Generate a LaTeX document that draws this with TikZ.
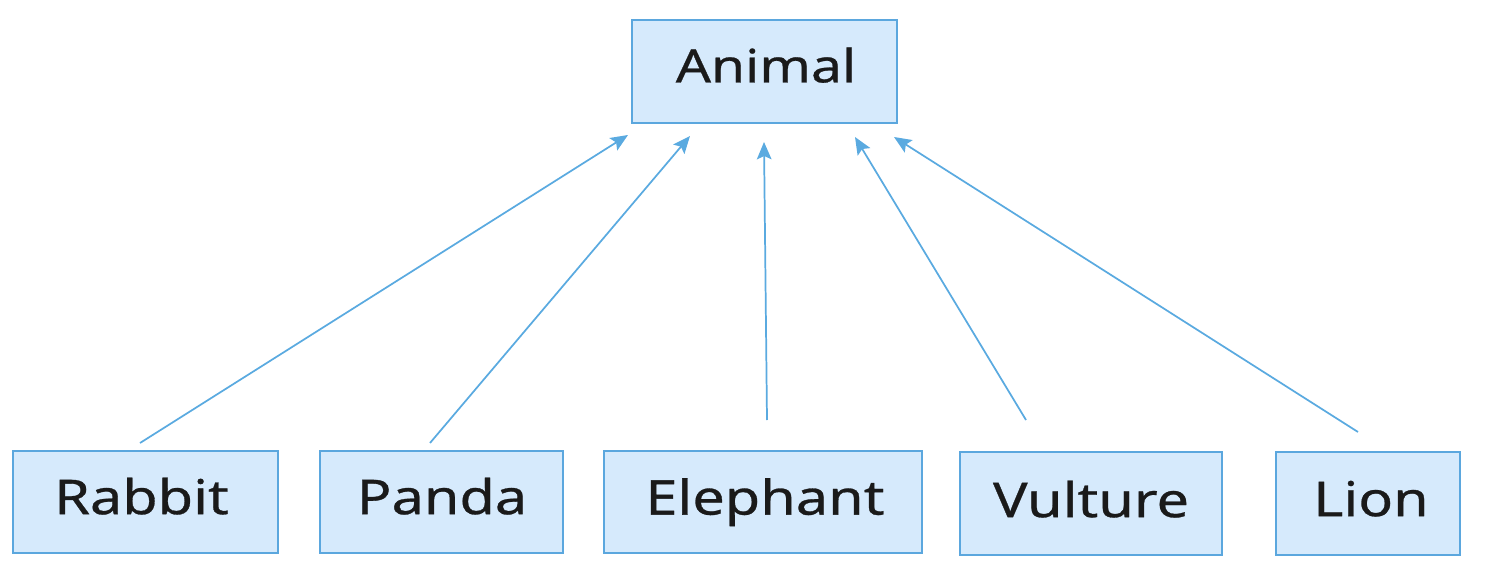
\documentclass[tikz,border=0pt]{standalone}
\usepackage{fontspec}
\setmainfont{Noto Sans}[FakeStretch=1.2, FakeBold=0.6]
\usetikzlibrary{arrows.meta}
\definecolor{boxfill}{HTML}{D6EAFC}
\definecolor{boxline}{HTML}{5BA7DE}
\definecolor{arrowc}{HTML}{5AAAE0}
\definecolor{txt}{HTML}{1A1A1A}
\tikzset{
  cls/.style={draw=boxline, fill=boxfill, line width=1.5pt, inner sep=0pt},
  lbl/.style={text=txt, font=\fontsize{36}{44}\selectfont, inner sep=0pt, text height=25.7pt, text depth=0pt},
  toplbl/.style={text=txt, font=\fontsize{34.5}{42}\selectfont, inner sep=0pt, text height=24.6pt, text depth=0pt},
  inh/.style={draw=arrowc, line width=1.3pt, -{Stealth[length=13pt,width=11pt,inset=2.5pt]}}
}
\begin{document}
\begin{tikzpicture}[x=0.75pt,y=-0.75pt]
\useasboundingbox (0,0) rectangle (1489,567);
% boxes
\node[cls, minimum width=265*0.75pt, minimum height=103*0.75pt] (animal) at (764.5,71.5) {};
\node[cls, minimum width=265*0.75pt, minimum height=102*0.75pt] (rabbit) at (145.5,502) {};
\node[cls, minimum width=243*0.75pt, minimum height=102*0.75pt] (panda) at (441.5,502) {};
\node[cls, minimum width=318*0.75pt, minimum height=102*0.75pt] (elephant) at (763,502) {};
\node[cls, minimum width=262*0.75pt, minimum height=103*0.75pt] (vulture) at (1091,503.5) {};
\node[cls, minimum width=184*0.75pt, minimum height=103*0.75pt] (lion) at (1368,503.5) {};
% labels
\node[toplbl] (tanimal) at (766,66) {Animal};
\node[lbl] (trabbit) at (141.5,497) {Rabbit};
\node[lbl] (tpanda) at (442,497) {Panda};
\node[lbl] (telephant) at (765,497.5) {Elephant};
\node[lbl] (tvulture) at (1091,500) {Vulture};
\node[lbl] (tlion) at (1371,499) {Lion};
% connector ends
\coordinate (rs) at (140,443); \coordinate (re) at (628,135);
\coordinate (ps) at (430,443); \coordinate (pe) at (690,136);
\coordinate (es) at (767,420); \coordinate (ee) at (764,142);
\coordinate (vs) at (1026,420); \coordinate (ve) at (855,137);
\coordinate (ls) at (1358,432); \coordinate (le) at (894,137);
\draw[inh] (rs) -- (re);
\draw[inh] (ps) -- (pe);
\draw[inh] (es) -- (ee);
\draw[inh] (vs) -- (ve);
\draw[inh] (ls) -- (le);
\end{tikzpicture}
\end{document}
